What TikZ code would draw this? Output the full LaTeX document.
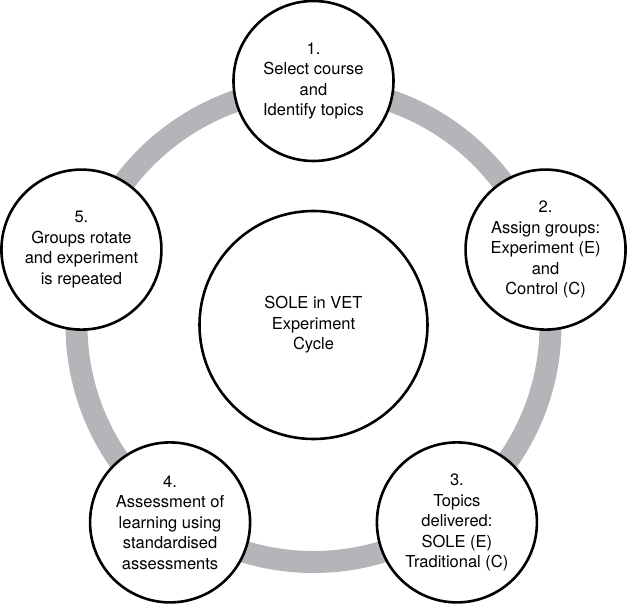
\documentclass[tikz,border=0pt]{standalone}
\usepackage{fontspec}
\setmainfont{TeX Gyre Heros}
\usetikzlibrary{positioning}
\definecolor{ringgray}{RGB}{180,181,184}

\begin{document}
\begin{tikzpicture}[x=1pt,y=1pt]
\tikzset{
stage/.style={circle,draw=black,fill=white,line width=2.6pt,minimum size=160pt,inner sep=0pt,
align=center,font=\fontsize{16.5}{20.5}\selectfont},
hub/.style={stage,minimum size=228pt},
ring/.style={draw=ringgray,line width=22pt},
}
\useasboundingbox (-313.5,-280) rectangle (315.5,325);

\draw[ring] (0,0) circle (237pt);

\node [hub] (cycle) at (0,0) {SOLE in VET\\Experiment\\Cycle};
\node [stage] (select) at (90:244pt) {1.\\Select course\\and\\Identify topics};
\node [stage] (assign) at (18:244pt) {2.\\Assign groups:\\Experiment (E)\\and\\Control (C)};
\node [stage] (deliver) at (-54:244pt) {3.\\Topics\\delivered:\\SOLE (E)\\Traditional (C)};
\node [stage] (assess) at (-126:244pt) {4.\\Assessment of\\learning using\\standardised\\assessments};
\node [stage] (rotate) at (162:244pt) {5.\\Groups rotate\\and experiment\\is repeated};
\end{tikzpicture}
\end{document}
